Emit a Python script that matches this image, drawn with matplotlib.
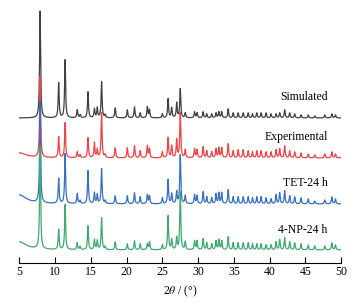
import matplotlib
matplotlib.use("Agg")
import matplotlib.pyplot as plt
import numpy as np

plt.rcParams['font.family'] = ['Liberation Serif', 'DejaVu Serif']
plt.rcParams['mathtext.fontset'] = 'stix'

# peak positions (2theta, deg)
peaks = [7.9, 10.5, 11.4, 13.1, 13.5, 14.6, 15.5, 15.9, 16.5, 17.0,
         18.4, 20.1, 21.1, 21.9, 22.9, 23.2, 25.0, 25.8, 26.3, 27.0,
         27.5, 28.2, 29.5, 29.85, 30.7, 31.2, 31.9, 32.5, 32.9, 33.3,
         34.2, 34.9, 35.6, 36.3, 37.0, 37.6, 38.2, 38.8, 39.5, 40.2,
         40.9, 41.4, 42.1, 42.8, 43.5, 44.4, 45.4, 46.3, 47.7, 48.7, 49.2]

# peak heights for each pattern (arbitrary units)
h_sim = [107, 35, 58, 8, 3, 26, 9, 10, 36, 3,
         10, 8, 11, 5, 11, 8, 4, 19, 10, 15,
         29, 5, 6, 5, 6, 4, 4, 5, 6, 6,
         9, 5, 5, 5, 5, 4, 5, 5, 5, 4,
         4, 5, 8, 5, 4, 3, 3, 2, 3, 4, 3]
h_exp = [81, 21, 35, 6, 3, 20, 15, 8, 45, 3,
         10, 10, 12, 7, 12, 9, 6, 20, 12, 18,
         45, 8, 9, 8, 11, 7, 6, 9, 10, 10,
         14, 7, 8, 8, 7, 6, 7, 7, 6, 6,
         8, 9, 12, 7, 6, 5, 4, 3, 4, 6, 4]
h_tet = [101, 25, 50, 10, 3, 33, 11, 9, 35, 3,
         8, 8, 11, 7, 9, 8, 6, 24, 10, 12,
         49, 8, 9, 8, 12, 7, 6, 10, 11, 11,
         14, 7, 7, 7, 7, 6, 7, 7, 6, 5,
         9, 11, 13, 8, 7, 6, 5, 3, 4, 7, 5]
h_np = [103, 20, 45, 7, 3, 24, 10, 9, 32, 3,
        8, 6, 9, 6, 6, 8, 5, 34, 10, 12,
        58, 8, 9, 9, 11, 7, 6, 9, 10, 9,
        13, 7, 7, 7, 7, 6, 6, 6, 5, 5,
        8, 10, 12, 8, 7, 6, 5, 4, 4, 7, 5]

offsets = [145, 105, 59, 13]
low_angle = [0, 5, 9, 8]   # background lift at 5 deg
labels = ['Simulated', 'Experimental', 'TET-24 h', '4-NP-24 h']
label_y = [166, 126, 80, 33]
colors = ['#404040', '#ee4247', '#3570c2', '#3fa870']

x = np.linspace(5, 50, 6000)


def pattern(heights, bg):
    y = np.zeros_like(x)
    for p, h in zip(peaks, heights):
        y += h / (1 + ((x - p) / 0.08) ** 2)
    y += bg / (1 + ((x - 5) / 1.2) ** 2)
    return y


fig = plt.figure(figsize=(3.58, 3.04), dpi=100)
ax = fig.add_axes([0.054, 0.135, 0.899, 0.865])

for hs, off, bg, c in zip([h_sim, h_exp, h_tet, h_np], offsets, low_angle, colors):
    ax.plot(x, pattern(hs, bg) + off, color=c, lw=0.9)

for lab, ly in zip(labels, label_y):
    ax.text(48.1, ly, lab, ha='right', va='center', fontsize=8.5)

ax.set_xlim(5, 50)
ax.set_ylim(0, 263)
ax.set_xticks(range(5, 51, 5))
ax.set_yticks([])
for s in ['left', 'right', 'top']:
    ax.spines[s].set_visible(False)
ax.spines['bottom'].set_linewidth(0.8)
ax.tick_params(axis='x', direction='in', length=4, width=0.8, labelsize=8.5, pad=2)
ax.set_xlabel(r'2$\theta$ / (°)', fontsize=8.5, labelpad=4)
ax.patch.set_visible(False)

fig.savefig('out.png', dpi=100)
